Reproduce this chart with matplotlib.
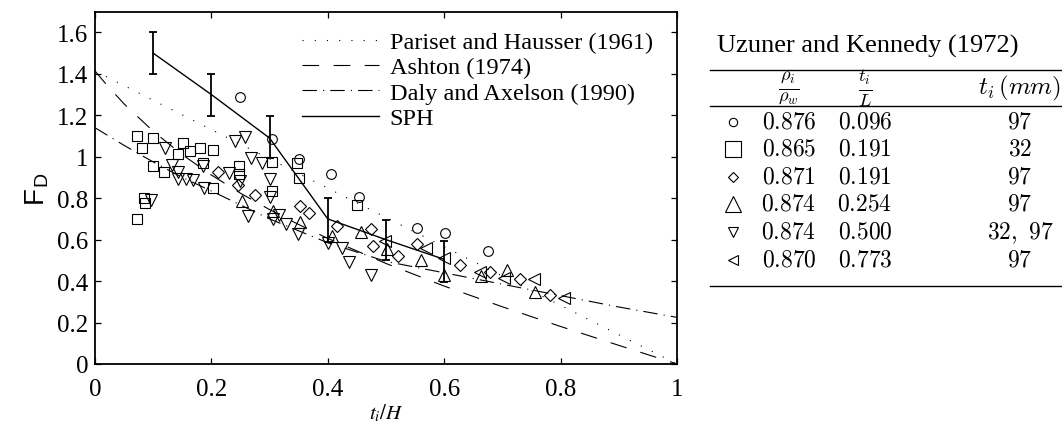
import matplotlib
matplotlib.use("Agg")
import matplotlib.pyplot as plt

plt.rcParams['font.family'] = ['Liberation Serif', 'DejaVu Serif']
plt.rcParams['mathtext.fontset'] = 'cm'

# SPH results with error bars
sph_x = [0.1, 0.2, 0.3, 0.4, 0.5, 0.6]
sph_f = [1.50, 1.30, 1.09, 0.70, 0.60, 0.505]
sph_lo = [1.40, 1.195, 0.995, 0.59, 0.50, 0.396]
sph_hi = [1.60, 1.40, 1.195, 0.80, 0.695, 0.594]

# criteria curves
pariset_x = [0.0, 1.0]
pariset_f = [1.414, 0.0]

ashton_x = [0.0, 0.02, 0.05, 0.1, 0.15, 0.2, 0.25, 0.3, 0.35, 0.4, 0.5, 0.6, 0.7, 0.8, 0.9, 1.0]
ashton_f = [1.414, 1.347, 1.255, 1.123, 1.010, 0.912, 0.824, 0.745, 0.673, 0.606, 0.485, 0.376,
            0.276, 0.181, 0.090, 0.0]

daly_x = [0.0, 0.05, 0.1, 0.15, 0.2, 0.3, 0.4, 0.5, 0.6, 0.7, 0.8, 0.9, 1.0]
daly_f = [1.14, 1.055, 0.975, 0.90, 0.835, 0.70, 0.585, 0.495, 0.44, 0.385, 0.33, 0.275, 0.225]

# Uzuner and Kennedy (1972) experiments
circle_x = [0.249, 0.304, 0.351, 0.405, 0.454, 0.554, 0.601, 0.675]
circle_f = [1.288, 1.084, 0.988, 0.916, 0.806, 0.658, 0.631, 0.543]

square_x = [0.073, 0.100, 0.081, 0.151, 0.143, 0.164, 0.180, 0.203, 0.099, 0.119, 0.185,
            0.202, 0.084, 0.086, 0.073, 0.248, 0.248, 0.304, 0.304, 0.347, 0.351, 0.451]
square_f = [1.100, 1.089, 1.044, 1.068, 1.012, 1.028, 1.041, 1.031, 0.956, 0.928, 0.972,
            0.848, 0.800, 0.776, 0.699, 0.956, 0.918, 0.974, 0.833, 0.972, 0.898, 0.765]

diamond_x = [0.212, 0.245, 0.275, 0.352, 0.368, 0.416, 0.474, 0.477, 0.521, 0.554, 0.627,
             0.678, 0.731, 0.782]
diamond_f = [0.928, 0.866, 0.815, 0.762, 0.729, 0.664, 0.651, 0.570, 0.522, 0.578, 0.476,
             0.442, 0.410, 0.331]

up_x = [0.253, 0.305, 0.353, 0.407, 0.457, 0.501, 0.560, 0.600, 0.663, 0.708, 0.756]
up_f = [0.787, 0.739, 0.687, 0.616, 0.637, 0.557, 0.502, 0.429, 0.426, 0.452, 0.349]

down_x = [0.097, 0.121, 0.133, 0.143, 0.143, 0.156, 0.168, 0.186, 0.187, 0.231, 0.241, 0.257,
          0.249, 0.268, 0.287, 0.301, 0.301, 0.263, 0.306, 0.317, 0.329, 0.348, 0.401, 0.424,
          0.437, 0.474]
down_f = [0.790, 1.041, 0.961, 0.927, 0.895, 0.895, 0.888, 0.956, 0.850, 0.921, 1.076, 1.096,
          0.881, 0.996, 0.972, 0.891, 0.806, 0.716, 0.702, 0.718, 0.675, 0.625, 0.585, 0.562,
          0.493, 0.431]

left_x = [0.498, 0.569, 0.600, 0.661, 0.703, 0.755, 0.806]
left_f = [0.594, 0.561, 0.510, 0.446, 0.414, 0.408, 0.319]

# table on the right
table_title = "Uzuner and Kennedy (1972)"
table_header = [r"$\frac{\rho_i}{\rho_w}$", r"$\frac{t_i}{L}$", r"$t_i\,(mm)$"]
table_rho = ["0.876", "0.865", "0.871", "0.874", "0.874", "0.870"]
table_tl = ["0.096", "0.191", "0.191", "0.254", "0.500", "0.773"]
table_mm = ["97", "32", "97", "97", r"32,\ 97", "97"]

xticks = [0, 0.2, 0.4, 0.6, 0.8, 1.0]
xtick_labels = ["0", "0.2", "0.4", "0.6", "0.8", "1"]
yticks = [0, 0.2, 0.4, 0.6, 0.8, 1.0, 1.2, 1.4, 1.6]
ytick_labels = ["0", "0.2", "0.4", "0.6", "0.8", "1", "1.2", "1.4", "1.6"]

W, H = 1062, 435
fig = plt.figure(figsize=(W / 100, H / 100), dpi=100)
ax = fig.add_axes([95 / W, 70 / H, 582 / W, 352.3 / H])

lw = 0.8
ax.plot(pariset_x, pariset_f, color="k", lw=lw, linestyle=(0, (1, 10)),
        label="Pariset and Hausser (1961)")
ax.plot(ashton_x, ashton_f, color="k", lw=lw, linestyle=(0, (15, 13)),
        label="Ashton (1974)")
ax.plot(daly_x, daly_f, color="k", lw=lw, linestyle=(0, (13, 5.5, 1, 5.5)),
        label="Daly and Axelson (1990)")
ax.plot(sph_x, sph_f, color="k", lw=1.0, label="SPH")
yerr = [[f - lo for f, lo in zip(sph_f, sph_lo)], [hi - f for f, hi in zip(sph_f, sph_hi)]]
ax.errorbar(sph_x, sph_f, yerr=yerr, fmt="none", ecolor="k", elinewidth=1.3,
            capsize=3, capthick=1.3)

mk = dict(linestyle="none", mfc="none", mec="k", mew=0.8)
ax.plot(circle_x, circle_f, marker="o", ms=7, **mk)
ax.plot(square_x, square_f, marker="s", ms=7, **mk)
ax.plot(diamond_x, diamond_f, marker="D", ms=6, **mk)
ax.plot(up_x, up_f, marker="^", ms=8, **mk)
ax.plot(down_x, down_f, marker="v", ms=8, **mk)
ax.plot(left_x, left_f, marker="<", ms=8, **mk)

ax.set_xlim(0, 1)
ax.set_ylim(0, 1.7)
ax.set_xticks(xticks)
ax.set_xticklabels(xtick_labels)
ax.set_yticks(yticks)
ax.set_yticklabels(ytick_labels)
ax.tick_params(direction="in", top=True, right=True, length=4.5, width=0.9,
               labelsize=18, pad=5)
ax.tick_params(axis="x", pad=10)
for s in ax.spines.values():
    s.set_linewidth(1.3)

ax.set_xlabel(r"$t_i/H$", fontsize=15, labelpad=1, math_fontfamily="stix")
ax.set_ylabel(r"F$_\mathregular{D}$", fontsize=20, fontfamily="Liberation Sans", labelpad=4)

ax.legend(loc="upper left", bbox_to_anchor=(0.355, 0.945), frameon=False, fontsize=17.5,
          handlelength=3.2, handletextpad=0.42, labelspacing=0.14, borderpad=0,
          borderaxespad=0)

# table drawn in pixel coordinates
tab = fig.add_axes([0, 0, 1, 1], zorder=-1)
tab.set_xlim(0, W)
tab.set_ylim(H, 0)
tab.axis("off")

tab.text(868, 46, table_title, ha="center", va="center", fontsize=19)
for y in [71, 107, 287]:
    tab.plot([710, 1062], [y, y], color="k", lw=1.0)
col_x = [789, 865, 1020]
tab.text(col_x[0], 88, table_header[0], ha="center", va="center", fontsize=19)
tab.text(col_x[1], 88, table_header[1], ha="center", va="center", fontsize=19)
tab.text(col_x[2], 88, table_header[2], ha="center", va="center", fontsize=18)

row_y = [123, 150, 178, 205, 233, 261]
row_markers = ["o", "s", "D", "^", "v", "<"]
row_ms = [6, 11, 5.5, 12, 7, 6.5]
for i, y in enumerate(row_y):
    tab.plot([733], [y], marker=row_markers[i], ms=row_ms[i], mfc="none", mec="k", mew=0.8)
    tab.text(col_x[0], y, "$" + table_rho[i] + "$", ha="center", va="center", fontsize=17)
    tab.text(col_x[1], y, "$" + table_tl[i] + "$", ha="center", va="center", fontsize=17)
    tab.text(col_x[2], y, "$" + table_mm[i] + "$", ha="center", va="center", fontsize=17)

fig.savefig("out.png", dpi=100)
